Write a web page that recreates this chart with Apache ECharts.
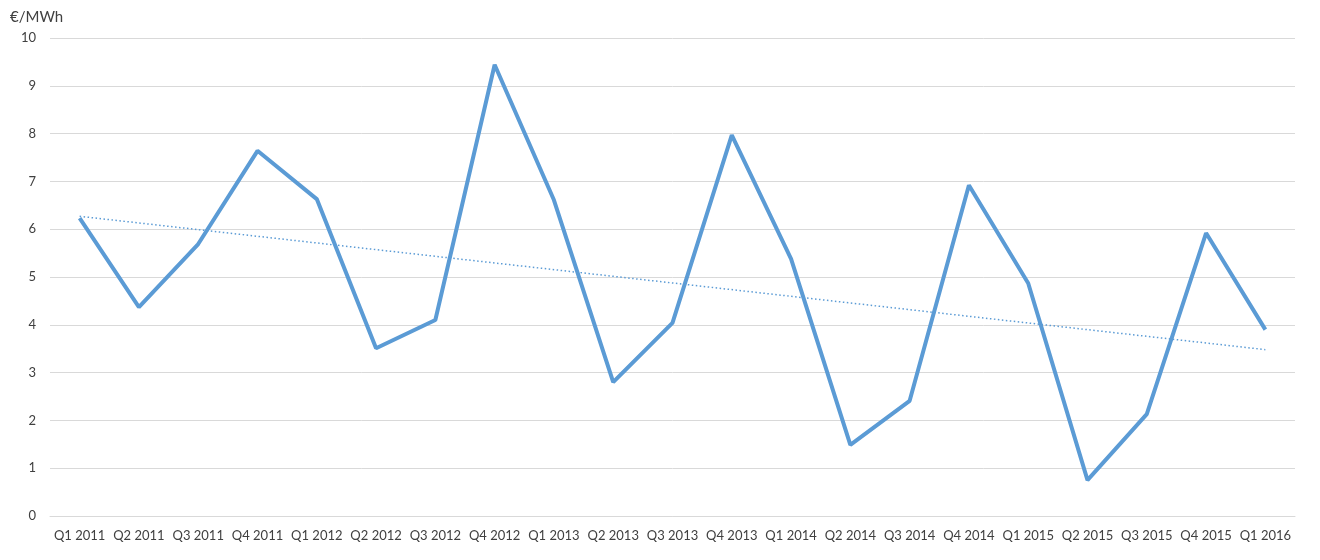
<!DOCTYPE html>
<html><head><meta charset="utf-8">
<script src="https://cdn.jsdelivr.net/npm/echarts@6/dist/echarts.min.js"></script>
<style>html,body{margin:0;padding:0;background:#fff}#c{width:1320px;height:560px}</style>
</head><body><div id="c"></div>
<script>
const categories = ["Q1 2011","Q2 2011","Q3 2011","Q4 2011","Q1 2012","Q2 2012","Q3 2012","Q4 2012","Q1 2013","Q2 2013","Q3 2013","Q4 2013","Q1 2014","Q2 2014","Q3 2014","Q4 2014","Q1 2015","Q2 2015","Q3 2015","Q4 2015","Q1 2016"];
const prices = [6.23,4.37,5.69,7.64,6.63,3.51,4.10,9.44,6.61,2.80,4.04,7.97,5.38,1.49,2.41,6.92,4.87,0.75,2.13,5.92,3.90];
const trendStart = 6.27;
const trendEnd = 3.48;
const unitLabel = "€/MWh";

const trend = categories.map((c,i)=> i===0 ? trendStart : (i===categories.length-1 ? trendEnd : null));

const chart = echarts.init(document.getElementById('c'));
const font = "Lato, 'Noto Sans', sans-serif";
chart.setOption({
  animation:false,
  title:{text:unitLabel,left:5,top:5,textStyle:{fontSize:15,fontWeight:'normal',color:'#404040',fontFamily:font}},
  grid:{left:50,right:25,top:38,bottom:44,containLabel:false},
  xAxis:{type:'category',data:categories,boundaryGap:true,
    axisLine:{show:true,lineStyle:{color:'#d9d9d9'}},axisTick:{show:false},
    axisLabel:{color:'#404040',fontSize:13,fontFamily:font,margin:13,interval:0}},
  yAxis:{type:'value',min:0,max:10,interval:1,
    axisLine:{show:false},axisTick:{show:false},
    axisLabel:{color:'#404040',fontSize:13,fontFamily:font,margin:14},
    splitLine:{lineStyle:{color:'#d9d9d9',width:1}}},
  series:[
    {type:'line',data:prices,symbol:'none',lineStyle:{color:'#5b9bd5',width:4},z:3},
    {type:'line',data:trend,connectNulls:true,symbol:'none',lineStyle:{color:'#5b9bd5',width:1.5,type:[1.5,2.5]},z:2}
  ]
});
</script></body></html>
